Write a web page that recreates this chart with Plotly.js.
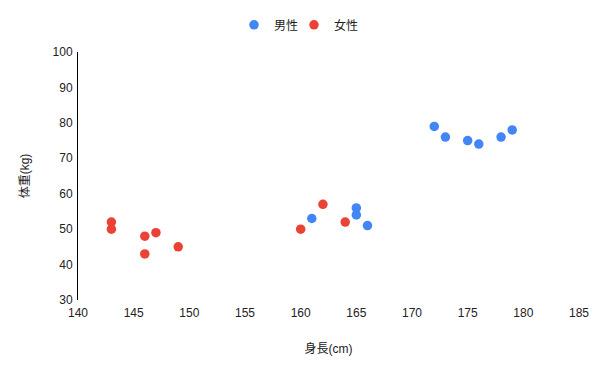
<!DOCTYPE html>
<html>
<head>
<meta charset="utf-8">
<script src="https://cdn.plot.ly/plotly-3.0.1.min.js"></script>
<style>html,body{margin:0;padding:0;background:#fff;}#chart{width:600px;height:371px;}</style>
</head>
<body>
<div id="chart"></div>
<script>
const seriesNames = ["男性", "女性"];
const maleHeight = [161, 165, 165, 166, 172, 173, 175, 176, 178, 179];
const maleWeight = [53, 56, 54, 51, 79, 76, 75, 74, 76, 78];
const femaleHeight = [143, 143, 146, 146, 147, 149, 160, 162, 164];
const femaleWeight = [52, 50, 48, 43, 49, 45, 50, 57, 52];
const xTicks = [140, 145, 150, 155, 160, 165, 170, 175, 180, 185];
const yTicks = [30, 40, 50, 60, 70, 80, 90, 100];
const xTitle = "身長(cm)";
const yTitle = "体重(kg)";

const fontFam = "Arial, 'Liberation Sans', 'Noto Sans CJK JP', sans-serif";
const traces = [
  {x: maleHeight, y: maleWeight, name: seriesNames[0], type: "scatter", mode: "markers", legend: "legend",
   marker: {color: "#4285F4", size: 9.5}},
  {x: femaleHeight, y: femaleWeight, name: seriesNames[1], type: "scatter", mode: "markers", legend: "legend2",
   marker: {color: "#EA4335", size: 9.5}}
];
const legendBase = {orientation: "h", xanchor: "left", xref: "container", y: 0.933, yanchor: "middle", yref: "container",
                    font: {family: fontFam, size: 12, color: "#222"}, itemwidth: 30, bgcolor: "rgba(0,0,0,0)"};
const layout = {
  width: 600, height: 371,
  margin: {l: 78, r: 21, t: 52, b: 71},
  paper_bgcolor: "#fff", plot_bgcolor: "#fff",
  font: {family: fontFam, size: 12, color: "#222"},
  showlegend: true,
  legend: Object.assign({}, legendBase, {x: 234 / 600}),
  legend2: Object.assign({}, legendBase, {x: 294 / 600}),
  xaxis: {range: [140, 185], tickvals: xTicks, ticktext: xTicks.map(String), showgrid: false, zeroline: false,
          showline: false, ticks: "", ticklabelstandoff: 4, tickfont: {size: 12, color: "#222"},
          title: {text: xTitle, standoff: 25, font: {size: 12, color: "#222"}}},
  yaxis: {range: [30, 100], tickvals: yTicks, ticktext: yTicks.map(String), showgrid: false, zeroline: false,
          showline: true, linecolor: "#000", linewidth: 1, ticks: "", ticklabelstandoff: 2, tickfont: {size: 12, color: "#222"},
          title: {text: yTitle, standoff: 20, font: {size: 12, color: "#222"}}}
};
Plotly.newPlot("chart", traces, layout, {displayModeBar: false, staticPlot: true});
</script>
</body>
</html>
